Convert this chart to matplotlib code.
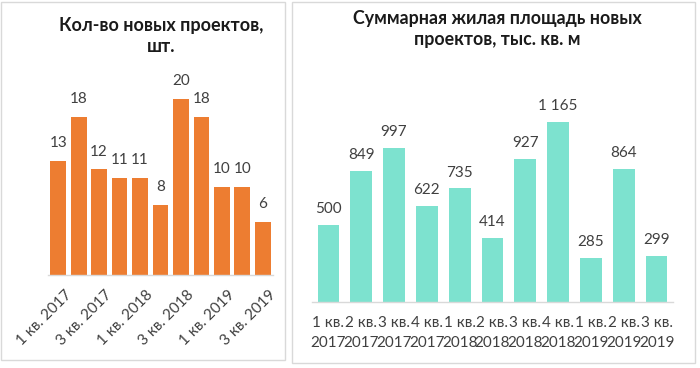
import matplotlib
matplotlib.use('Agg')
import matplotlib.patches as mpatches
from matplotlib import pyplot as plt
from matplotlib.transforms import ScaledTranslation

# data
quarters_short = ['1 кв. 2017', '2 кв. 2017', '3 кв. 2017', '4 кв. 2017',
                  '1 кв. 2018', '2 кв. 2018', '3 кв. 2018', '4 кв. 2018',
                  '1 кв. 2019', '2 кв. 2019', '3 кв. 2019']
projects_count = [13, 18, 12, 11, 11, 8, 20, 18, 10, 10, 6]
living_area = [500, 849, 997, 622, 735, 414, 927, 1165, 285, 864, 299]

left_title = 'Кол-во новых проектов,\nшт.'
right_title = 'Суммарная жилая площадь новых\nпроектов, тыс. кв. м'

ORANGE = '#ED7D31'
TEAL = '#7DE2CF'
TEXT = '#404040'
GRID = '#D9D9D9'

plt.rcParams['font.family'] = ['Lato', 'DejaVu Sans']

W, H = 700, 368
fig = plt.figure(figsize=(W / 100, H / 100), dpi=100)


def px_rect(x0, y0, x1, y1):
    # pixel box (from top-left) -> figure fraction rect
    return [x0 / W, 1 - y1 / H, (x1 - x0) / W, (y1 - y0) / H]


# panel frames
for (x0, y0, x1, y1) in [(1, 2, 285, 360), (292, 2, 695, 363)]:
    fig.patches.append(mpatches.Rectangle((x0 / W, 1 - y1 / H), (x1 - x0) / W, (y1 - y0) / H,
                                          transform=fig.transFigure, fill=False,
                                          edgecolor=GRID, linewidth=1.0))


def style_axis(ax):
    for side in ['top', 'right', 'left']:
        ax.spines[side].set_visible(False)
    ax.spines['bottom'].set_color(GRID)
    ax.spines['bottom'].set_linewidth(1.0)
    ax.set_yticks([])
    ax.tick_params(axis='x', length=0, colors=TEXT, labelsize=11)
    ax.set_xlim(-0.5, len(quarters_short) - 0.5)


# LEFT CHART #
ax1 = fig.add_axes(px_rect(48, 99, 273, 275))
positions = range(len(projects_count))
ax1.bar(positions, projects_count, width=0.77, color=ORANGE)
ax1.set_ylim(0, max(projects_count))
style_axis(ax1)
for i, v in enumerate(projects_count):
    ax1.annotate(str(v), xy=(i, v), xytext=(0, 10), textcoords='offset points',
                 ha='center', va='baseline', fontsize=11, color=TEXT, annotation_clip=False)
ax1.set_xticks(list(positions)[::2])
ax1.set_xticklabels(quarters_short[::2], rotation=45, ha='right', va='top', rotation_mode='anchor')
ax1.tick_params(axis='x', pad=9)
for label in ax1.get_xticklabels():
    label.set_transform(label.get_transform() + ScaledTranslation(0.06, 0, fig.dpi_scale_trans))
fig.text(161 / W, 1 - 36 / H, left_title, ha='center', va='center', fontsize=13,
         fontweight='bold', color='#1A1A1A', linespacing=1.3)

# RIGHT CHART #
ax2 = fig.add_axes(px_rect(312, 122, 673, 302))
positions = range(len(living_area))
ax2.bar(positions, living_area, width=0.66, color=TEAL)
ax2.set_ylim(0, max(living_area))
style_axis(ax2)
for i, v in enumerate(living_area):
    ax2.annotate('{:,}'.format(v).replace(',', ' '), xy=(i, v), xytext=(0, 8.5), textcoords='offset points',
                 ha='center', va='baseline', fontsize=11, color=TEXT, annotation_clip=False)
ax2.set_xticks(list(positions))
ax2.set_xticklabels([q.replace(' 20', '\n20') for q in quarters_short], linespacing=1.55)
ax2.tick_params(axis='x', pad=10)
fig.text(497 / W, 1 - 29 / H, right_title, ha='center', va='center', fontsize=12.8,
         fontweight='bold', color='#1A1A1A', linespacing=1.3)

fig.savefig('out.png', dpi=100)
